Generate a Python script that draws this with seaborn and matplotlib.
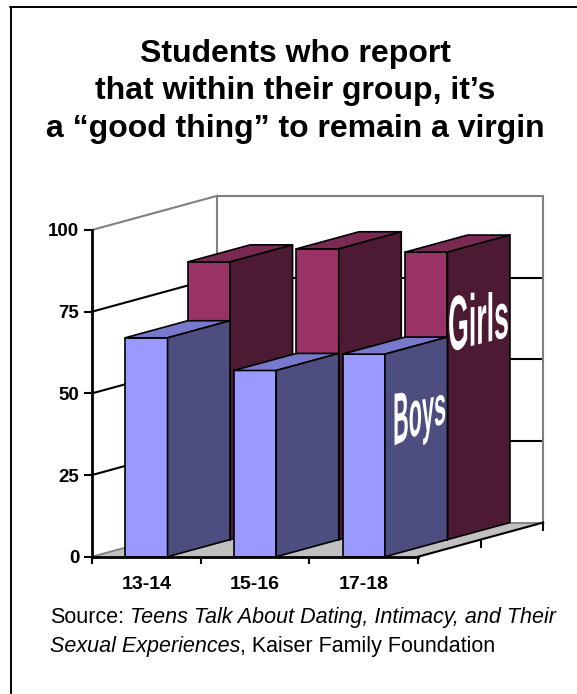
import numpy as np
import matplotlib
matplotlib.use("Agg")
import matplotlib.pyplot as plt
import seaborn as sns
from matplotlib.patches import Polygon
from matplotlib.lines import Line2D
from matplotlib.path import Path
from matplotlib.transforms import Affine2D, IdentityTransform
from matplotlib.patheffects import AbstractPathEffect
from matplotlib.offsetbox import TextArea, HPacker, VPacker, AnchoredOffsetbox

# ---- data -------------------------------------------------------------
age_groups = ["13-14", "15-16", "17-18"]
boys = [67, 57, 62]
girls = [85, 89, 88]
value_ticks = [0, 25, 50, 75, 100]

title = ("Students who report\n"
         "that within their group, it\u2019s\n"
         "a \u201cgood thing\u201d to remain a virgin")

# ---- style ------------------------------------------------------------
sns.set_theme(style="white")
plt.rcParams["font.family"] = ["Liberation Sans", "DejaVu Sans"]

BOY_FRONT, BOY_TOP, BOY_SIDE = "#9999ff", "#7878cc", "#4d4d80"
GIRL_FRONT, GIRL_TOP, GIRL_SIDE = "#993366", "#7a2952", "#4d1a33"
FLOOR = "#c0c0c0"
WALL_EDGE = "#808080"

W, H = 577, 694
fig = plt.figure(figsize=(W / 100, H / 100), dpi=100)

# plotting area: x in category units, y in percent
PX_X, PX_Y = 108.7, 3.267          # pixels per data unit
ORIGIN = (92, 556.7)               # pixel position of (x=-0.5, y=0), from top-left
xlim = (-0.5, 3.75)
ylim = (0, 114)
ax = fig.add_axes([ORIGIN[0] / W, (H - ORIGIN[1]) / H,
                   (xlim[1] - xlim[0]) * PX_X / W,
                   (ylim[1] - ylim[0]) * PX_Y / H])
ax.patch.set_alpha(0)

# oblique depth vector of the whole floor and of one series row
DEPTH = np.array([1.15, 10.45])
ROW = DEPTH / 2

n = len(age_groups)
xl, xr = -0.5, n - 0.5
vmax = value_ticks[-1]
dx, dy = DEPTH

# ---- floor and walls ---------------------------------------------------
ax.add_patch(Polygon([(xl, 0), (xr, 0), (xr + dx, dy), (xl + dx, dy)],
                     closed=True, fc=FLOOR, ec="none", zorder=0.5))


def seg(p, q, color, lw, z=1):
    ax.add_line(Line2D([p[0], q[0]], [p[1], q[1]], color=color, lw=lw,
                       zorder=z, solid_capstyle="projecting", clip_on=False))


for v in value_ticks[1:-1]:
    seg((xl, v), (xl + dx, v + dy), "black", 1.5)
    seg((xl + dx, v + dy), (xr + dx, v + dy), "black", 1.5)

seg((xl, 0), (xl + dx, dy), WALL_EDGE, 1.3)
seg((xl + dx, dy), (xr + dx, dy), WALL_EDGE, 1.3)
seg((xl + dx, dy), (xl + dx, vmax + dy), WALL_EDGE, 1.5)
seg((xl, vmax), (xl + dx, vmax + dy), WALL_EDGE, 1.5)
seg((xl + dx, vmax + dy), (xr + dx, vmax + dy), WALL_EDGE, 1.5)
seg((xr + dx, dy), (xr + dx, vmax + dy), WALL_EDGE, 1.5)

# right floor edge (series axis) with its ticks
seg((xr, 0), (xr + dx, dy), "black", 1.5, z=2)
tick_len = 7 / PX_Y
for t in (0.5, 1.0):
    seg((xr + t * dx, t * dy), (xr + t * dx, t * dy - tick_len), "black", 1.5, z=2)


# ---- bars ---------------------------------------------------------------
def add_bars(values, front, top, side, offset, z):
    start = len(ax.patches)
    sns.barplot(x=age_groups, y=values, color=front, width=0.39,
                saturation=1, errorbar=None, edgecolor="black",
                linewidth=1.2, ax=ax, zorder=z)
    bars = ax.patches[start:]
    ox, oy = offset
    for p in bars:
        p.set_transform(Affine2D().translate(ox, oy) + ax.transData)
        x, w, h = p.get_x() + ox, p.get_width(), p.get_height()
        b = oy
        ax.add_patch(Polygon([(x, b + h), (x + w, b + h),
                              (x + w + ROW[0], b + h + ROW[1]),
                              (x + ROW[0], b + h + ROW[1])],
                             closed=True, fc=top, ec="black", lw=1.2,
                             zorder=z, joinstyle="miter"))
        ax.add_patch(Polygon([(x + w, b), (x + w + ROW[0], b + ROW[1]),
                              (x + w + ROW[0], b + h + ROW[1]),
                              (x + w, b + h)],
                             closed=True, fc=side, ec="black", lw=1.2,
                             zorder=z, joinstyle="miter"))
    return bars


add_bars(girls, GIRL_FRONT, GIRL_TOP, GIRL_SIDE, ROW, 3)
add_bars(boys, BOY_FRONT, BOY_TOP, BOY_SIDE, (0.0, 0.0), 4)


# ---- series labels painted on the side faces ------------------------------
class FaceWarp(AbstractPathEffect):
    """Stretch text vertically, tilt its baseline and taper it to the right."""

    def __init__(self, width_pt, rise_pt, taper, stretch):
        super().__init__()
        self.width_pt = width_pt
        self.rise_pt = rise_pt
        self.taper = taper
        self.stretch = stretch

    def draw_path(self, renderer, gc, tpath, affine, rgbFace=None):
        verts = affine.transform(tpath.vertices)
        ox, oy = affine.transform((0.0, 0.0))
        local = verts - np.array([ox, oy])
        span = max(local[:, 0].max(), 1e-6)
        t = np.clip(local[:, 0] / span, 0, 1)
        w = renderer.points_to_pixels(self.width_pt)
        r = renderer.points_to_pixels(self.rise_pt)
        yy = local[:, 1] * self.stretch * (1 - self.taper * t) + r * t
        new = np.column_stack([ox + t * w, oy + yy])
        renderer.draw_path(gc, Path(new, tpath.codes), IdentityTransform(), rgbFace)


series_labels = [
    # text, anchor (x, y) in data units, font size, width, rise, taper, stretch
    ("Boys", (2.27, 33.9), 15.3, 37.5, 17.0, 0.30, 3.55),
    ("Girls", (2.776, 62.7), 19.0, 43.0, 10.8, 0.22, 3.05),
]
for txt, (lx, ly), fs, wpt, rpt, tap, st in series_labels:
    t = ax.text(lx, ly, txt, color="white", fontsize=fs, fontweight="bold",
                ha="left", va="baseline", zorder=6)
    t.set_path_effects([FaceWarp(wpt, rpt, tap, st)])

# ---- axes ----------------------------------------------------------------
ax.set_xlim(*xlim)
ax.set_ylim(*ylim)
ax.grid(False)
for s in ("top", "right"):
    ax.spines[s].set_visible(False)
for s in ("left", "bottom"):
    ax.spines[s].set_color("black")
    ax.spines[s].set_linewidth(2)
    ax.spines[s].set_zorder(5)
ax.spines["left"].set_bounds(0, vmax)
ax.spines["bottom"].set_bounds(xl, xr)

ax.set_yticks(value_ticks)
ax.set_yticklabels([str(v) for v in value_ticks], fontsize=13.5,
                   fontweight="bold")
ax.tick_params(axis="y", left=True, direction="out", length=6, width=1.5,
               pad=3, color="black", labelcolor="black")

ax.set_xticks(range(n))
ax.set_xticklabels(age_groups, fontsize=14, fontweight="bold")
ax.set_xticks([xl + i for i in range(n + 1)], minor=True)
ax.tick_params(axis="x", which="major", bottom=True, length=0, pad=14,
               labelcolor="black")
ax.tick_params(axis="x", which="minor", bottom=True, direction="out",
               length=5, width=1.5, color="black")
ax.set_xlabel("")
ax.set_ylabel("")

# ---- title, source, frame --------------------------------------------------
fig.text(295 / W, 1 - 39 / H, title, ha="center", va="top", fontsize=23,
         fontweight="bold", linespacing=1.32, color="black")

FS = 15.5
line1 = HPacker(children=[
    TextArea("Source:", textprops=dict(fontsize=FS, color="black")),
    TextArea("Teens Talk About Dating, Intimacy, and Their",
             textprops=dict(fontsize=FS, style="italic", color="black")),
], sep=4.3, pad=0, align="baseline")
line2 = HPacker(children=[
    TextArea("Sexual Experiences",
             textprops=dict(fontsize=FS, style="italic", color="black")),
    TextArea(", Kaiser Family Foundation",
             textprops=dict(fontsize=FS, color="black")),
], sep=0, pad=0, align="baseline")
source = VPacker(children=[line1, line2], sep=5.5, pad=0, align="left")
fig.add_artist(AnchoredOffsetbox(loc="upper left", child=source, pad=0,
                                 borderpad=0, frameon=False,
                                 bbox_to_anchor=(50 / W, 1 - 607 / H),
                                 bbox_transform=fig.transFigure))

fig.add_artist(Line2D([10.8 / W, 10.8 / W], [0, 1 - 6.8 / H],
                      transform=fig.transFigure, color="black", lw=1.4))
fig.add_artist(Line2D([10.3 / W, 1], [1 - 6.8 / H, 1 - 6.8 / H],
                      transform=fig.transFigure, color="black", lw=1.4))

fig.savefig("out.png", dpi=100, facecolor="white")
